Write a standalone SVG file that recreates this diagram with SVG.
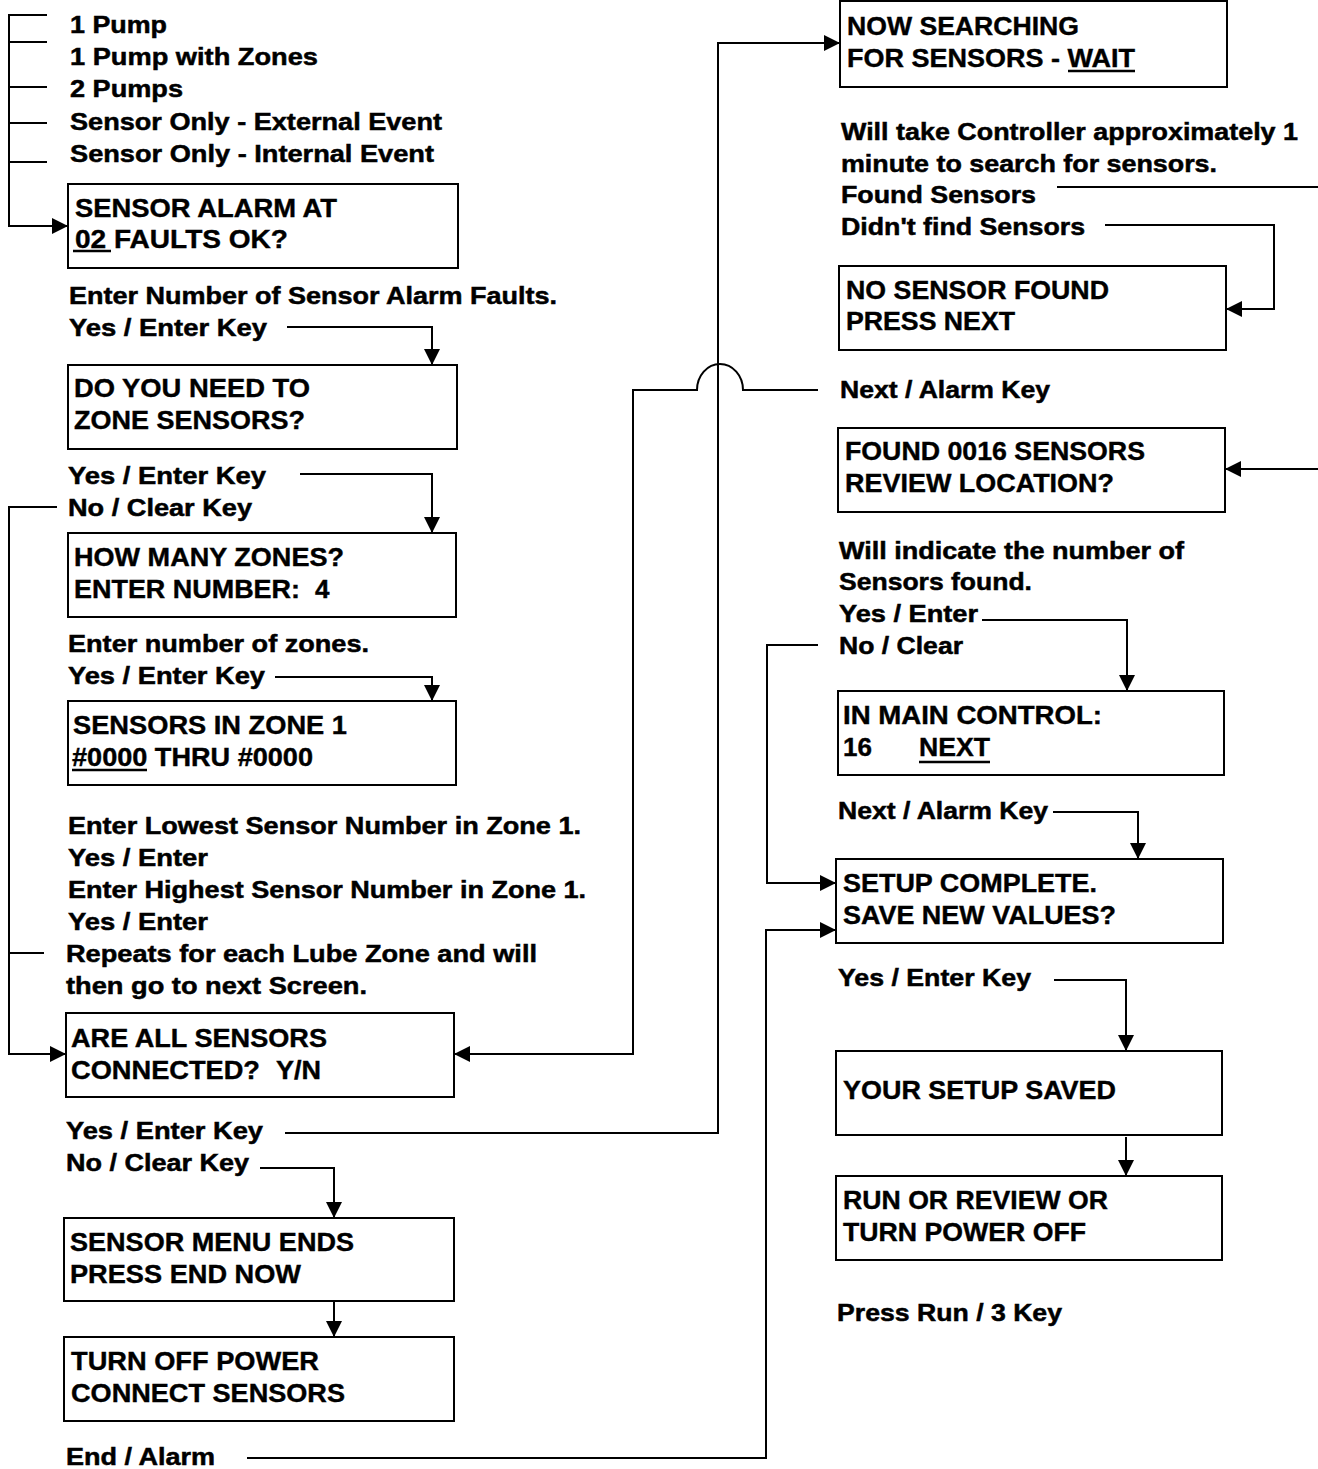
<svg xmlns="http://www.w3.org/2000/svg" width="1318" height="1469" viewBox="0 0 1318 1469">
  <style>
    .box { fill: #fff; stroke: #000; stroke-width: 2; }
    .bt { font-family: "Liberation Sans", Arial, sans-serif; font-weight: bold; font-size: 26px; fill: #000; stroke: #000; stroke-width: 0.4; }
    .lb { font-family: "Liberation Sans", Arial, sans-serif; font-weight: bold; font-size: 24px; fill: #000; stroke: #000; stroke-width: 0.5; }
    .ln { fill: none; stroke: #000; stroke-width: 2; }
    .ul { stroke: #000; stroke-width: 2.5; }
  </style>
  <defs>
    <marker id="arrow" markerUnits="userSpaceOnUse" markerWidth="18" markerHeight="18" refX="16" refY="8" orient="auto">
      <path d="M0,0 L16,8 L0,16 z" fill="#000"/>
    </marker>
  </defs>
  <rect width="1318" height="1469" fill="#fff"/>

  <!-- connectors -->
  <g id="connectors">
    <path class="ln" d="M47,15 H9 V226 H68" marker-end="url(#arrow)"/>
    <path class="ln" d="M9,42 H47 M9,87 H47 M9,123 H47 M9,162 H47"/>
    <path class="ln" d="M287,327 H432 V365" marker-end="url(#arrow)"/>
    <path class="ln" d="M300,474 H432 V533" marker-end="url(#arrow)"/>
    <path class="ln" d="M57,507 H9 V1054 H66" marker-end="url(#arrow)"/>
    <path class="ln" d="M9,953 H44"/>
    <path class="ln" d="M275,677 H432 V701" marker-end="url(#arrow)"/>
    <path class="ln" d="M285,1133 H718 V43 H840" marker-end="url(#arrow)"/>
    <path class="ln" d="M260,1168 H334 V1218" marker-end="url(#arrow)"/>
    <path class="ln" d="M334,1301 V1337" marker-end="url(#arrow)"/>
    <path class="ln" d="M247,1458 H766 V930 H836" marker-end="url(#arrow)"/>
    <path class="ln" d="M1057,187 H1320 V469 H1225" marker-end="url(#arrow)"/>
    <path class="ln" d="M1105,225 H1274 V309 H1226" marker-end="url(#arrow)"/>
    <path class="ln" d="M818,390 H743 A23,26 0 0 0 697,390 H633 V1054 H454" marker-end="url(#arrow)"/>
    <path class="ln" d="M982,620 H1127 V691" marker-end="url(#arrow)"/>
    <path class="ln" d="M818,645 H767 V883 H836" marker-end="url(#arrow)"/>
    <path class="ln" d="M1053,812 H1138 V859" marker-end="url(#arrow)"/>
    <path class="ln" d="M1054,980 H1126 V1051" marker-end="url(#arrow)"/>
    <path class="ln" d="M1126,1137 V1176" marker-end="url(#arrow)"/>
  </g>

  <!-- left column screens -->
  <g id="sensor-alarm">
    <rect class="box" x="68" y="184" width="390" height="84"/>
    <text class="bt" x="75" y="217" textLength="262" lengthAdjust="spacingAndGlyphs">SENSOR ALARM AT</text>
    <text class="bt" x="75" y="248" textLength="213" lengthAdjust="spacingAndGlyphs">02 FAULTS OK?</text>
    <line class="ul" x1="73" y1="251" x2="111" y2="251"/>
  </g>
  <g id="zone-sensors">
    <rect class="box" x="68" y="365" width="389" height="84"/>
    <text class="bt" x="74" y="397" textLength="236" lengthAdjust="spacingAndGlyphs">DO YOU NEED TO</text>
    <text class="bt" x="74" y="429" textLength="231" lengthAdjust="spacingAndGlyphs">ZONE SENSORS?</text>
  </g>
  <g id="how-many-zones">
    <rect class="box" x="68" y="533" width="388" height="84"/>
    <text class="bt" x="74" y="566" textLength="270" lengthAdjust="spacingAndGlyphs">HOW MANY ZONES?</text>
    <text class="bt" x="74" y="598" textLength="226" lengthAdjust="spacingAndGlyphs">ENTER NUMBER:</text>
    <text class="bt" x="315" y="598">4</text>
  </g>
  <g id="sensors-in-zone">
    <rect class="box" x="68" y="701" width="388" height="84"/>
    <text class="bt" x="73" y="734" textLength="274" lengthAdjust="spacingAndGlyphs">SENSORS IN ZONE 1</text>
    <text class="bt" x="72" y="766" textLength="241" lengthAdjust="spacingAndGlyphs">#0000 THRU #0000</text>
    <line class="ul" x1="72" y1="770" x2="147" y2="770"/>
  </g>
  <g id="all-connected">
    <rect class="box" x="66" y="1013" width="388" height="84"/>
    <text class="bt" x="71" y="1047" textLength="256" lengthAdjust="spacingAndGlyphs">ARE ALL SENSORS</text>
    <text class="bt" x="71" y="1079" textLength="189" lengthAdjust="spacingAndGlyphs">CONNECTED?</text>
    <text class="bt" x="276" y="1079" textLength="45" lengthAdjust="spacingAndGlyphs">Y/N</text>
  </g>
  <g id="menu-ends">
    <rect class="box" x="64" y="1218" width="390" height="83"/>
    <text class="bt" x="70" y="1251" textLength="284" lengthAdjust="spacingAndGlyphs">SENSOR MENU ENDS</text>
    <text class="bt" x="70" y="1283" textLength="231" lengthAdjust="spacingAndGlyphs">PRESS END NOW</text>
  </g>
  <g id="turn-off-power">
    <rect class="box" x="64" y="1337" width="390" height="84"/>
    <text class="bt" x="71" y="1370" textLength="248" lengthAdjust="spacingAndGlyphs">TURN OFF POWER</text>
    <text class="bt" x="71" y="1402" textLength="274" lengthAdjust="spacingAndGlyphs">CONNECT SENSORS</text>
  </g>

  <!-- right column screens -->
  <g id="now-searching">
    <rect class="box" x="840" y="1" width="387" height="86"/>
    <text class="bt" x="847" y="35" textLength="232" lengthAdjust="spacingAndGlyphs">NOW SEARCHING</text>
    <text class="bt" x="847" y="67" textLength="288" lengthAdjust="spacingAndGlyphs">FOR SENSORS - WAIT</text>
    <line class="ul" x1="1068" y1="71" x2="1135" y2="71"/>
  </g>
  <g id="no-sensor-found">
    <rect class="box" x="839" y="266" width="387" height="84"/>
    <text class="bt" x="846" y="299" textLength="263" lengthAdjust="spacingAndGlyphs">NO SENSOR FOUND</text>
    <text class="bt" x="846" y="330" textLength="169" lengthAdjust="spacingAndGlyphs">PRESS NEXT</text>
  </g>
  <g id="found-sensors">
    <rect class="box" x="838" y="428" width="387" height="84"/>
    <text class="bt" x="845" y="460" textLength="300" lengthAdjust="spacingAndGlyphs">FOUND 0016 SENSORS</text>
    <text class="bt" x="845" y="492" textLength="269" lengthAdjust="spacingAndGlyphs">REVIEW LOCATION?</text>
  </g>
  <g id="main-control">
    <rect class="box" x="838" y="691" width="386" height="84"/>
    <text class="bt" x="843" y="724" textLength="259" lengthAdjust="spacingAndGlyphs">IN MAIN CONTROL:</text>
    <text class="bt" x="843" y="756">16</text>
    <text class="bt" x="919" y="756" textLength="71" lengthAdjust="spacingAndGlyphs">NEXT</text>
    <line class="ul" x1="919" y1="762" x2="990" y2="762"/>
  </g>
  <g id="setup-complete">
    <rect class="box" x="836" y="859" width="387" height="84"/>
    <text class="bt" x="843" y="892" textLength="254" lengthAdjust="spacingAndGlyphs">SETUP COMPLETE.</text>
    <text class="bt" x="843" y="924" textLength="273" lengthAdjust="spacingAndGlyphs">SAVE NEW VALUES?</text>
  </g>
  <g id="setup-saved">
    <rect class="box" x="836" y="1051" width="386" height="84"/>
    <text class="bt" x="843" y="1099" textLength="273" lengthAdjust="spacingAndGlyphs">YOUR SETUP SAVED</text>
  </g>
  <g id="run-or-review">
    <rect class="box" x="836" y="1176" width="386" height="84"/>
    <text class="bt" x="843" y="1209" textLength="265" lengthAdjust="spacingAndGlyphs">RUN OR REVIEW OR</text>
    <text class="bt" x="843" y="1241" textLength="243" lengthAdjust="spacingAndGlyphs">TURN POWER OFF</text>
  </g>

  <!-- key labels and notes -->
  <g id="labels">
    <text class="lb" x="70" y="33" textLength="97" lengthAdjust="spacingAndGlyphs">1 Pump</text>
    <text class="lb" x="70" y="65" textLength="248" lengthAdjust="spacingAndGlyphs">1 Pump with Zones</text>
    <text class="lb" x="70" y="97" textLength="113" lengthAdjust="spacingAndGlyphs">2 Pumps</text>
    <text class="lb" x="70" y="130" textLength="372" lengthAdjust="spacingAndGlyphs">Sensor Only - External Event</text>
    <text class="lb" x="70" y="162" textLength="364" lengthAdjust="spacingAndGlyphs">Sensor Only - Internal Event</text>
    <text class="lb" x="69" y="304" textLength="488" lengthAdjust="spacingAndGlyphs">Enter Number of Sensor Alarm Faults.</text>
    <text class="lb" x="69" y="336" textLength="198" lengthAdjust="spacingAndGlyphs">Yes / Enter Key</text>
    <text class="lb" x="68" y="484" textLength="198" lengthAdjust="spacingAndGlyphs">Yes / Enter Key</text>
    <text class="lb" x="68" y="516" textLength="184" lengthAdjust="spacingAndGlyphs">No / Clear Key</text>
    <text class="lb" x="68" y="652" textLength="301" lengthAdjust="spacingAndGlyphs">Enter number of zones.</text>
    <text class="lb" x="68" y="684" textLength="197" lengthAdjust="spacingAndGlyphs">Yes / Enter Key</text>
    <text class="lb" x="68" y="834" textLength="513" lengthAdjust="spacingAndGlyphs">Enter Lowest Sensor Number in Zone 1.</text>
    <text class="lb" x="68" y="866" textLength="140" lengthAdjust="spacingAndGlyphs">Yes / Enter</text>
    <text class="lb" x="68" y="898" textLength="518" lengthAdjust="spacingAndGlyphs">Enter Highest Sensor Number in Zone 1.</text>
    <text class="lb" x="68" y="930" textLength="140" lengthAdjust="spacingAndGlyphs">Yes / Enter</text>
    <text class="lb" x="66" y="962" textLength="471" lengthAdjust="spacingAndGlyphs">Repeats for each Lube Zone and will</text>
    <text class="lb" x="66" y="994" textLength="301" lengthAdjust="spacingAndGlyphs">then go to next Screen.</text>
    <text class="lb" x="66" y="1139" textLength="197" lengthAdjust="spacingAndGlyphs">Yes / Enter Key</text>
    <text class="lb" x="66" y="1171" textLength="183" lengthAdjust="spacingAndGlyphs">No / Clear Key</text>
    <text class="lb" x="66" y="1465" textLength="149" lengthAdjust="spacingAndGlyphs">End / Alarm</text>
    <text class="lb" x="841" y="140" textLength="457" lengthAdjust="spacingAndGlyphs">Will take Controller approximately 1</text>
    <text class="lb" x="841" y="172" textLength="376" lengthAdjust="spacingAndGlyphs">minute to search for sensors.</text>
    <text class="lb" x="841" y="203" textLength="195" lengthAdjust="spacingAndGlyphs">Found Sensors</text>
    <text class="lb" x="841" y="235" textLength="244" lengthAdjust="spacingAndGlyphs">Didn't find Sensors</text>
    <text class="lb" x="840" y="398" textLength="210" lengthAdjust="spacingAndGlyphs">Next / Alarm Key</text>
    <text class="lb" x="839" y="559" textLength="345" lengthAdjust="spacingAndGlyphs">Will indicate the number of</text>
    <text class="lb" x="839" y="590" textLength="193" lengthAdjust="spacingAndGlyphs">Sensors found.</text>
    <text class="lb" x="839" y="622" textLength="139" lengthAdjust="spacingAndGlyphs">Yes / Enter</text>
    <text class="lb" x="839" y="654" textLength="124" lengthAdjust="spacingAndGlyphs">No / Clear</text>
    <text class="lb" x="838" y="819" textLength="210" lengthAdjust="spacingAndGlyphs">Next / Alarm Key</text>
    <text class="lb" x="838" y="986" textLength="193" lengthAdjust="spacingAndGlyphs">Yes / Enter Key</text>
    <text class="lb" x="837" y="1321" textLength="225" lengthAdjust="spacingAndGlyphs">Press Run / 3 Key</text>
  </g>
</svg>
